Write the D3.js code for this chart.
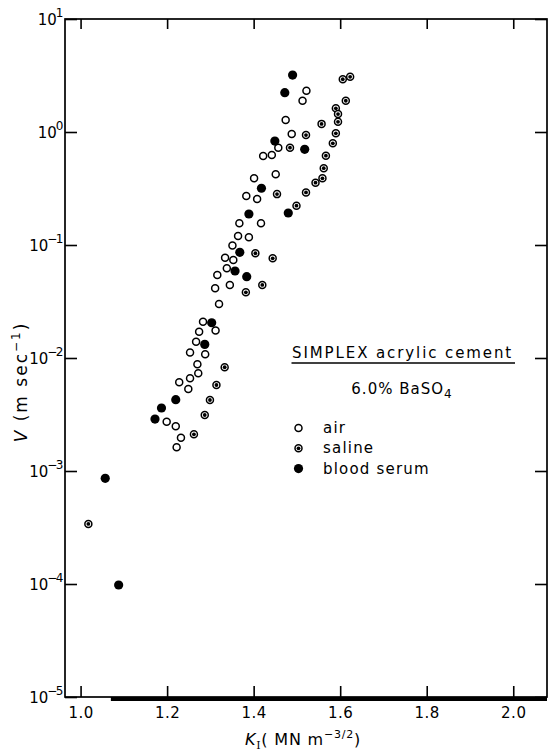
<!DOCTYPE html>
<html>
<head>
<meta charset="utf-8">
<script src="https://cdn.jsdelivr.net/npm/d3@7"></script>
<style>
  html, body { margin: 0; padding: 0; background: #fff; }
  svg { display: block; }
  text { font-family: "DejaVu Sans", sans-serif; fill: #000; }
</style>
</head>
<body>
<svg id="chart" width="550" height="752"></svg>
<script>
// ---------- data ----------
const airK = [1.522,1.513,1.474,1.488,1.457,1.442,1.422,1.451,1.401,1.383,1.408,1.367,1.417,1.364,1.389,1.351,1.334,1.353,1.338,1.316,1.345,1.311,1.320,1.283,1.274,1.312,1.267,1.253,1.288,1.270,1.272,1.253,1.228,1.249,1.199,1.220,1.232,1.222];
const airV = [2.32,1.89,1.28,0.96,0.726,0.625,0.614,0.423,0.389,0.272,0.255,0.156,0.156,0.120,0.117,0.0991,0.0773,0.0736,0.0622,0.0543,0.0443,0.0414,0.0301,0.0209,0.0171,0.0175,0.0139,0.0112,0.0108,0.00879,0.00733,0.00661,0.00610,0.00532,0.00273,0.00249,0.00197,0.00162];

const salineK = [1.623,1.606,1.613,1.590,1.595,1.595,1.557,1.590,1.521,1.583,1.484,1.567,1.562,1.559,1.543,1.454,1.521,1.499,1.404,1.444,1.420,1.382,1.333,1.314,1.299,1.287,1.262,1.018];
const salineV = [3.08,2.93,1.89,1.62,1.44,1.23,1.18,0.974,0.940,0.794,0.726,0.617,0.478,0.389,0.356,0.282,0.292,0.223,0.0845,0.0762,0.0443,0.0381,0.00828,0.00577,0.00425,0.00313,0.00211,0.00034];

const serumK = [1.490,1.472,1.449,1.518,1.418,1.389,1.480,1.368,1.357,1.384,1.303,1.287,1.220,1.187,1.172,1.057,1.088];
const serumV = [3.19,2.23,0.832,0.703,0.318,0.188,0.192,0.0861,0.0589,0.0524,0.0205,0.0132,0.00428,0.00361,0.00288,0.000861,0.000098];

const xTickValues = [1.0, 1.2, 1.4, 1.6, 1.8, 2.0];
const xTickLabels = ["1.0", "1.2", "1.4", "1.6", "1.8", "2.0"];
const yTickValues = [10, 1, 0.1, 0.01, 0.001, 0.0001, 0.00001];
const yTickExponents = ["1", "0", "\u22121", "\u22122", "\u22123", "\u22124", "\u22125"];

const legendLabels = ["air", "saline", "blood serum"];
const legendKeys = ["air", "saline", "serum"];

// ---------- layout ----------
const svg = d3.select("#chart");
const L = 65, R = 547, T = 19, B = 697;

const x = d3.scaleLinear().domain([0.964, 2.078]).range([L, R]);
const y = d3.scaleLog().domain([1e-5, 10]).range([B, T]);

// frame
svg.append("rect")
  .attr("x", L).attr("y", T).attr("width", R - L).attr("height", B - T)
  .attr("fill", "none").attr("stroke", "#000").attr("stroke-width", 1.7);
// heavier lower edge seen in the reference
svg.append("line")
  .attr("x1", x(1.07)).attr("x2", R).attr("y1", B + 2).attr("y2", B + 2)
  .attr("stroke", "#000").attr("stroke-width", 4);

// bottom axis
const gxb = svg.append("g").attr("transform", `translate(0,${B})`)
  .call(d3.axisBottom(x).tickValues(xTickValues)
    .tickFormat((d, i) => xTickLabels[i])
    .tickSizeInner(-11).tickSizeOuter(0).tickPadding(10));
gxb.select(".domain").remove();
gxb.selectAll(".tick line").attr("stroke", "#000").attr("stroke-width", 1.6);
gxb.selectAll(".tick text").attr("font-size", 15).attr("font-family", "DejaVu Sans")
  .attr("letter-spacing", 0.5).attr("fill", "#000");

// top axis
const gxt = svg.append("g").attr("transform", `translate(0,${T})`)
  .call(d3.axisTop(x).tickValues(xTickValues).tickFormat("")
    .tickSizeInner(-10).tickSizeOuter(0));
gxt.select(".domain").remove();
gxt.selectAll(".tick line").attr("stroke", "#000").attr("stroke-width", 1.6);

// left axis
const gyl = svg.append("g").attr("transform", `translate(${L},0)`)
  .call(d3.axisLeft(y).tickValues(yTickValues).tickFormat("")
    .tickSizeInner(-12).tickSizeOuter(0).tickPadding(4));
gyl.select(".domain").remove();
gyl.selectAll(".tick line").attr("stroke", "#000").attr("stroke-width", 1.6);
gyl.selectAll(".tick").each(function(d, i) {
  const t = d3.select(this).append("text")
    .attr("x", -3).attr("y", 5).attr("text-anchor", "end")
    .attr("font-size", 15).attr("font-family", "DejaVu Sans").attr("fill", "#000");
  t.append("tspan").text("10");
  t.append("tspan").attr("dy", -8).attr("dx", -1).attr("font-size", 12)
    .attr("letter-spacing", -1.5).text(yTickExponents[i]);
});

// right axis
const gyr = svg.append("g").attr("transform", `translate(${R},0)`)
  .call(d3.axisRight(y).tickValues(yTickValues).tickFormat("")
    .tickSizeInner(-12).tickSizeOuter(0));
gyr.select(".domain").remove();
gyr.selectAll(".tick line").attr("stroke", "#000").attr("stroke-width", 1.6);

// axis titles
const xt = svg.append("text").attr("x", 303).attr("y", 745).attr("text-anchor", "middle")
  .attr("font-size", 16).attr("letter-spacing", 0.8);
xt.append("tspan").attr("font-style", "italic").text("K");
xt.append("tspan").attr("font-family", "DejaVu Serif").attr("font-size", 11).attr("dy", 4).text("I");
xt.append("tspan").attr("dy", -4).text("( MN m");
xt.append("tspan").attr("font-size", 11).attr("dy", -7).text("\u22123/2");
xt.append("tspan").attr("dy", 7).text(")");

const yt = svg.append("text").attr("transform", "translate(27,382) rotate(-90)")
  .attr("text-anchor", "middle").attr("font-size", 17).attr("letter-spacing", 2);
yt.append("tspan").attr("font-style", "italic").text("V ");
yt.append("tspan").text("(m sec");
yt.append("tspan").attr("font-size", 12).attr("dy", -7).text("\u22121");
yt.append("tspan").attr("dy", 7).text(")");

// ---------- markers ----------
function drawMarker(g, type, cx, cy) {
  if (type === "serum") {
    g.append("circle").attr("cx", cx).attr("cy", cy).attr("r", 4.6).attr("fill", "#000");
  } else {
    g.append("circle").attr("cx", cx).attr("cy", cy).attr("r", 3.5)
      .attr("fill", "#fff").attr("stroke", "#000").attr("stroke-width", 1.5);
    if (type === "saline") {
      g.append("circle").attr("cx", cx).attr("cy", cy).attr("r", 1.9).attr("fill", "#000");
    }
  }
}

const pts = svg.append("g");
airK.forEach((k, i) => drawMarker(pts, "air", x(k), y(airV[i])));
salineK.forEach((k, i) => drawMarker(pts, "saline", x(k), y(salineV[i])));
serumK.forEach((k, i) => drawMarker(pts, "serum", x(k), y(serumV[i])));

// ---------- legend ----------
const lg = svg.append("g");
lg.append("text").attr("x", 292).attr("y", 358).attr("font-size", 15)
  .attr("letter-spacing", 1.9).text("SIMPLEX acrylic cement");
lg.append("line").attr("x1", 291.5).attr("x2", 515).attr("y1", 363).attr("y2", 363)
  .attr("stroke", "#000").attr("stroke-width", 1.4);
const sub = lg.append("text").attr("x", 402).attr("y", 394).attr("text-anchor", "middle")
  .attr("font-size", 15).attr("letter-spacing", 1);
sub.append("tspan").text("6.0% BaSO");
sub.append("tspan").attr("font-size", 12).attr("dy", 4).text("4");

legendLabels.forEach((lab, i) => {
  const cy = 428 + i * 20.3;
  drawMarker(lg, legendKeys[i], 298.5, cy);
  lg.append("text").attr("x", 323).attr("y", cy + 5).attr("font-size", 15)
    .attr("letter-spacing", 1.2).text(lab);
});
</script>
</body>
</html>
